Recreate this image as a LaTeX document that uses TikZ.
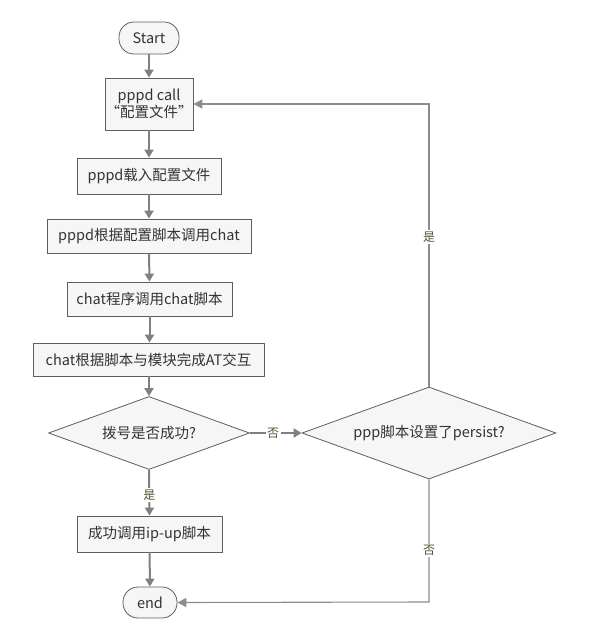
\documentclass[tikz,border=0pt]{standalone}
\usepackage{fontspec}
\setmainfont{Noto Sans CJK SC}
\usetikzlibrary{shapes.geometric,arrows.meta}
\definecolor{boxfill}{HTML}{F6F6F6}
\definecolor{boxline}{HTML}{5E5E5E}
\definecolor{flow}{HTML}{808080}
\definecolor{loopc}{HTML}{8C8C8C}
\definecolor{txt}{HTML}{333333}
\definecolor{lbl}{HTML}{5A5232}
\tikzset{
  procbox/.style={draw=boxline,fill=boxfill,line width=0.8bp,inner sep=0pt,text=txt,
    font=\fontsize{14.5bp}{17bp}\selectfont,align=center},
  termbox/.style={procbox,rounded corners=15bp},
  decbox/.style={procbox,shape=diamond,shape aspect=2.75},
  flowarrow/.style={draw=flow,line width=2bp,-{Triangle[length=8bp,width=9bp]}},
  flowline/.style={draw=flow,line width=2bp},
  looparrow/.style={draw=loopc,line width=1.1bp,-{Triangle[length=9bp,width=9bp]}},
  loopline/.style={draw=loopc,line width=1.1bp},
  lab/.style={text=lbl,font=\fontsize{12bp}{14bp}\selectfont,inner sep=1.5bp,fill=white}
}
\begin{document}
\begin{tikzpicture}[x=1bp,y=-1bp]
\useasboundingbox (0,0) rectangle (596,632);
\node[termbox,minimum width=60bp,minimum height=32bp] (start) at (149,38) {Start};
\node[procbox,minimum width=88bp,minimum height=52bp] (call) at (149,104) {pppd call\\“配置文件”};
\node[procbox,minimum width=144bp,minimum height=36bp] (load) at (149,176) {pppd载入配置文件};
\node[procbox,minimum width=204bp,minimum height=34bp] (chat1) at (149,236) {pppd根据配置脚本调用chat};
\node[procbox,minimum width=165bp,minimum height=34bp] (chat2) at (149.5,299) {chat程序调用chat脚本};
\node[procbox,minimum width=231bp,minimum height=33bp] (at) at (148.5,359.5) {chat根据脚本与模块完成AT交互};
\node[decbox,minimum width=201bp,minimum height=73bp] (d1) at (149,433) {拨号是否成功?};
\node[decbox,minimum width=254bp,minimum height=92bp] (d2) at (429,433) {ppp脚本设置了persist?};
\node[procbox,minimum width=145bp,minimum height=36bp] (ok) at (149.5,534) {成功调用ip-up脚本};
\node[termbox,minimum width=54bp,minimum height=31bp] (end) at (150,602.5) {end};

\coordinate (c1) at (429,104);
\coordinate (c2) at (429,602);

\draw[flowarrow] (start) -- (call);
\draw[flowarrow] (call) -- (load);
\draw[flowarrow] (load) -- (chat1);
\draw[flowarrow] (chat1) -- (chat2);
\draw[flowarrow] (chat2) -- (at.north -| chat2.south);
\draw[flowarrow] (at.south -| d1.north) -- (d1.north);
\draw[flowarrow] (d1.south) -- node[lab,pos=0.55]{是} (ok.north);
\draw[flowarrow] (ok) -- (end);
\draw[flowarrow] (d1.east) -- node[lab,pos=0.45]{否} (d2.west);
\draw[looparrow] (d2.north) -- node[lab,pos=0.53]{是} (c1) -- (call.east);
\draw[looparrow] (d2.south) -- node[lab,pos=0.58]{否} (c2) -- (end.east);
\end{tikzpicture}
\end{document}
